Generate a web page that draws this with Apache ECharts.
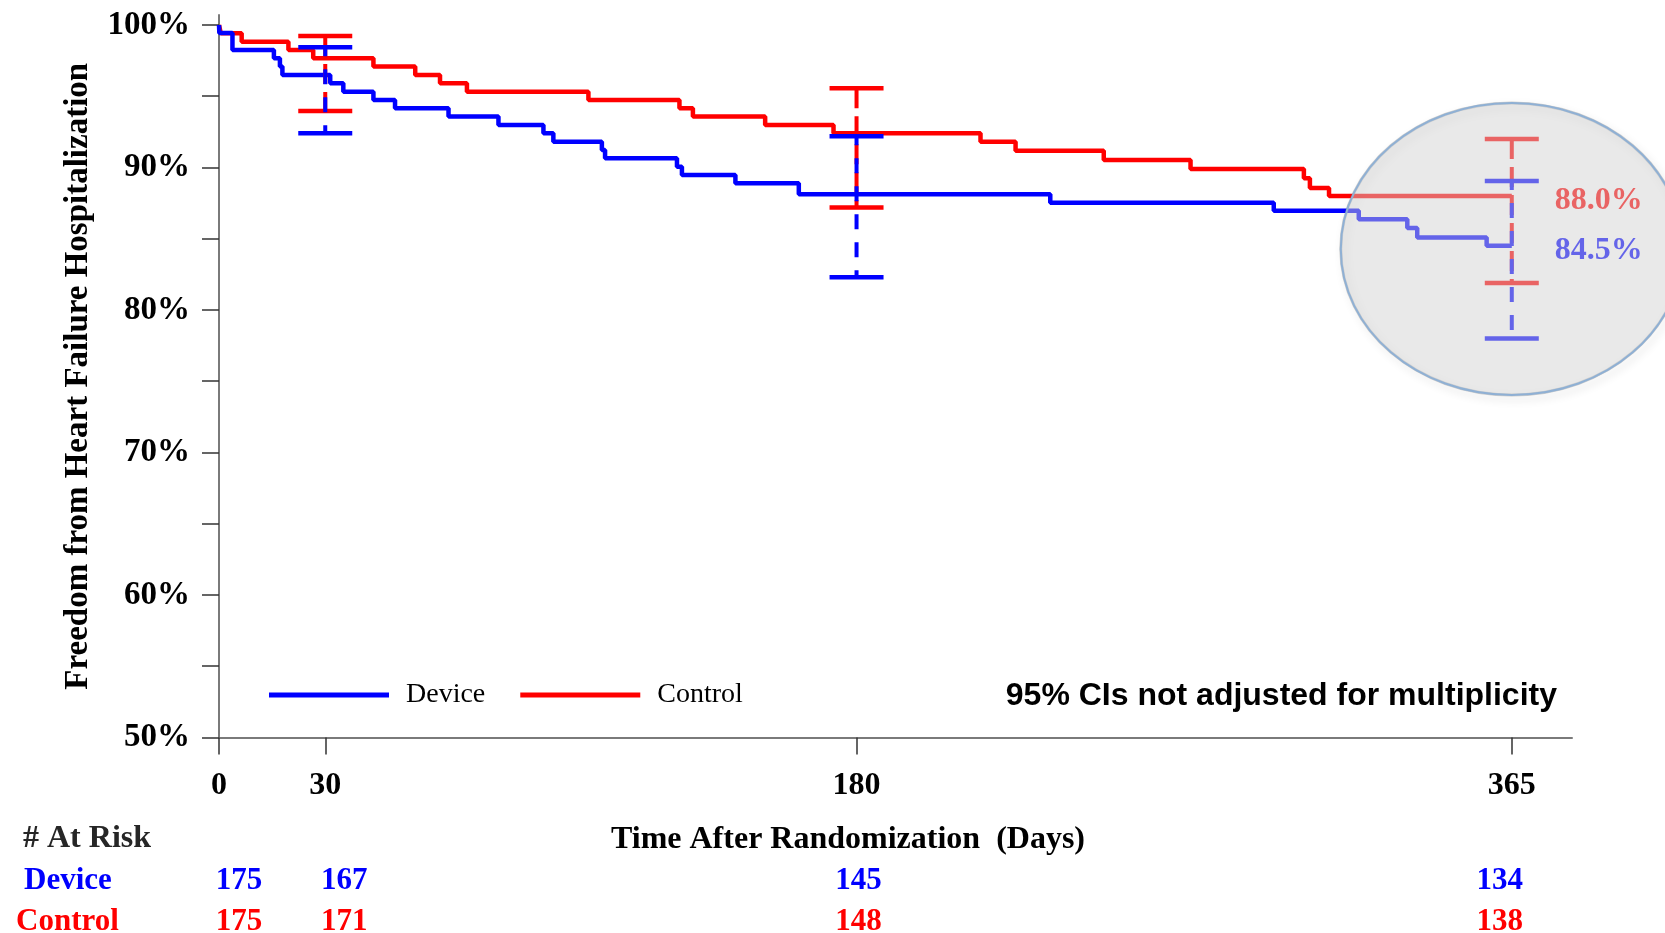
<!DOCTYPE html>
<html>
<head>
<meta charset="utf-8">
<title>Freedom from Heart Failure Hospitalization</title>
<script src="https://cdn.jsdelivr.net/npm/echarts@6/dist/echarts.min.js"></script>
<style>
  html, body { margin: 0; padding: 0; background: #ffffff; }
  #chart { width: 1665px; height: 933px; }
</style>
</head>
<body>
<div id="chart"></div>
<script>
// Kaplan-Meier estimates: day of each step and survival (%) after it
const deviceDays = [0, 0.1, 3.8, 15.5, 17.2, 17.9, 31.4, 35.1, 43.6, 49.7, 64.8, 78.9, 91.6, 94.4, 108.1, 109.0, 129.3, 130.7, 145.8, 163.7, 234.7, 297.8, 321.8, 335.5, 338.3, 357.9, 365];
const deviceSurv = [100, 99.43, 98.25, 97.66, 97.08, 96.49, 95.91, 95.32, 94.74, 94.15, 93.57, 92.98, 92.40, 91.81, 91.23, 90.64, 90.06, 89.47, 88.89, 88.12, 87.53, 86.97, 86.36, 85.76, 85.08, 84.5, 84.5];

const controlDays = [0, 0.5, 6.4, 19.6, 26.6, 43.6, 55.4, 62.4, 70.0, 104.3, 130.0, 133.8, 154.2, 173.5, 215.0, 224.9, 249.8, 274.3, 306.3, 308.0, 313.4, 365];
const controlSurv = [100, 99.42, 98.83, 98.25, 97.66, 97.08, 96.49, 95.91, 95.32, 94.74, 94.15, 93.57, 92.98, 92.40, 91.81, 91.17, 90.53, 89.89, 89.24, 88.56, 88.0, 88.0];

// 95% confidence intervals at landmark days
const ciDays = [30, 180, 365];
const deviceCiLow = [92.4, 82.3, 78.0];
const deviceCiHigh = [98.43, 92.2, 89.05];
const controlCiLow = [93.96, 87.2, 81.9];
const controlCiHigh = [99.23, 95.56, 92.0];

// Axis ticks
const xTicks = [0, 30, 180, 365];
const yTicks = [50, 55, 60, 65, 70, 75, 80, 85, 90, 95, 100];
const yLabels = [50, 60, 70, 80, 90, 100];

// Number at risk
const atRiskDays = [0, 30, 180, 365];
const deviceAtRisk = [175, 167, 145, 134];
const controlAtRisk = [175, 171, 148, 138];

const SERIF = '"Liberation Serif", "Times New Roman", serif';
const SANS = '"Liberation Sans", Arial, sans-serif';
const BLUE = '#0000ff';
const RED = '#ff0000';

const zip = (xs, ys) => xs.map((x, i) => [x, ys[i]]);
const ciData = (lo, hi) => ciDays.map((d, i) => [d, lo[i], hi[i]]);

// Dashed vertical interval with solid caps at both ends
function ciRender(color, dash, dashOffset) {
  return function (params, api) {
    const d = api.value(0);
    const top = api.coord([d, api.value(2)]);
    const bot = api.coord([d, api.value(1)]);
    const half = 27;
    const cap = { stroke: color, lineWidth: 4.5 };
    return {
      type: 'group',
      children: [
        { type: 'line', shape: { x1: top[0], y1: top[1], x2: bot[0], y2: bot[1] },
          style: { stroke: color, lineWidth: 4, lineDash: dash, lineDashOffset: dashOffset } },
        { type: 'line', shape: { x1: top[0] - half, y1: top[1], x2: top[0] + half, y2: top[1] }, style: cap },
        { type: 'line', shape: { x1: bot[0] - half, y1: bot[1], x2: bot[0] + half, y2: bot[1] }, style: cap }
      ]
    };
  };
}

const endLabel = (color) => ({
  show: true,
  distance: 43,
  offset: [0, 5],
  color: color,
  fontFamily: SERIF,
  fontWeight: 'bold',
  fontSize: 32,
  formatter: (p) => p.value[1].toFixed(1) + '%'
});

const chart = echarts.init(document.getElementById('chart'), null, { renderer: 'canvas' });

chart.setOption({
  animation: false,
  backgroundColor: '#ffffff',
  grid: { left: 219, right: 93, top: 15, bottom: 195.5, containLabel: false },
  legend: {
    data: ['Device', 'Control'],
    left: 264,
    top: 676,
    icon: 'rect',
    itemWidth: 120,
    itemHeight: 5,
    itemGap: 35,
    textStyle: { fontFamily: SERIF, fontSize: 28, color: '#000', padding: [0, 0, 0, 12] }
  },
  xAxis: {
    type: 'value',
    min: 0,
    max: 382,
    axisLine: { show: true, lineStyle: { color: '#7a7a7a', width: 2 } },
    axisTick: { show: true, length: 17, customValues: xTicks, lineStyle: { color: '#333', width: 1.5 } },
    axisLabel: {
      customValues: xTicks, margin: 32, color: '#000',
      fontFamily: SERIF, fontWeight: 'bold', fontSize: 32
    },
    splitLine: { show: false }
  },
  yAxis: {
    type: 'value',
    min: 50,
    max: 100.7,
    name: 'Freedom from Heart Failure Hospitalization',
    nameLocation: 'middle',
    nameRotate: 90,
    nameGap: 124,
    nameTextStyle: { fontFamily: SERIF, fontWeight: 'bold', fontSize: 33, color: '#000' },
    axisLine: { show: true, lineStyle: { color: '#7a7a7a', width: 2 } },
    axisTick: { show: true, length: 17, customValues: yTicks, lineStyle: { color: '#333', width: 1.5 } },
    axisLabel: {
      customValues: yLabels, margin: 29, color: '#000',
      fontFamily: SERIF, fontWeight: 'bold', fontSize: 33,
      padding: [12, 0, 0, 0],
      formatter: (v) => v + '%'
    },
    splitLine: { show: false }
  },
  series: [
    {
      name: 'Device', type: 'line', step: 'end', symbol: 'none',
      data: zip(deviceDays, deviceSurv),
      lineStyle: { color: BLUE, width: 4.5 }, itemStyle: { color: BLUE },
      endLabel: endLabel(BLUE), z: 3
    },
    {
      name: 'Control', type: 'line', step: 'end', symbol: 'none',
      data: zip(controlDays, controlSurv),
      lineStyle: { color: RED, width: 4.5 }, itemStyle: { color: RED },
      endLabel: endLabel(RED), z: 2
    },
    {
      name: 'Control 95% CI', type: 'custom',
      data: ciData(controlCiLow, controlCiHigh),
      encode: { x: 0, y: [1, 2] },
      renderItem: ciRender(RED, [20, 8], 0), z: 4
    },
    {
      name: 'Device 95% CI', type: 'custom',
      data: ciData(deviceCiLow, deviceCiHigh),
      encode: { x: 0, y: [1, 2] },
      renderItem: ciRender(BLUE, [15, 13], 6), z: 5
    }
  ]
});

// Highlight ellipse around the one-year estimates, drawn over the curves
const ellipseCenter = chart.convertToPixel({ gridIndex: 0 }, [365, 84.28]);
const toX = (d) => chart.convertToPixel({ gridIndex: 0 }, [d, 50])[0];
const riskOffset = [20, 19, 2, -12];

const riskTexts = [];
atRiskDays.forEach((d, i) => {
  const x = toX(d) + riskOffset[i];
  riskTexts.push({
    type: 'text', x: x, y: 881,
    style: { text: String(deviceAtRisk[i]), fill: BLUE, font: 'bold 31px ' + SERIF, align: 'center', verticalAlign: 'middle' }
  });
  riskTexts.push({
    type: 'text', x: x, y: 922,
    style: { text: String(controlAtRisk[i]), fill: RED, font: 'bold 31px ' + SERIF, align: 'center', verticalAlign: 'middle' }
  });
});

chart.setOption({
  graphic: [
    {
      type: 'ellipse', z: 20,
      shape: { cx: ellipseCenter[0], cy: ellipseCenter[1], rx: 171, ry: 146 },
      style: { fill: 'none', stroke: 'rgba(120,120,120,0.35)', lineWidth: 3,
               shadowColor: 'rgba(0,0,0,0.35)', shadowBlur: 8, shadowOffsetX: 3, shadowOffsetY: 4 }
    },
    {
      type: 'ellipse', z: 21,
      shape: { cx: ellipseCenter[0], cy: ellipseCenter[1], rx: 171, ry: 146 },
      style: { fill: 'rgba(208,208,208,0.48)', stroke: '#8fb0d4', lineWidth: 2 }
    },
    {
      type: 'text', x: 848, y: 840, z: 5,
      style: { text: 'Time After Randomization  (Days)', fill: '#000', font: 'bold 32px ' + SERIF, align: 'center', verticalAlign: 'middle' }
    },
    {
      type: 'text', x: 1557, y: 696, z: 5,
      style: { text: '95% CIs not adjusted for multiplicity', fill: '#000', font: 'bold 32px ' + SANS, align: 'right', verticalAlign: 'middle' }
    },
    {
      type: 'text', x: 23, y: 839, z: 5,
      style: { text: '# At Risk', fill: '#262626', font: 'bold 32px ' + SERIF, align: 'left', verticalAlign: 'middle' }
    },
    {
      type: 'text', x: 24, y: 881, z: 5,
      style: { text: 'Device', fill: BLUE, font: 'bold 31px ' + SERIF, align: 'left', verticalAlign: 'middle' }
    },
    {
      type: 'text', x: 16, y: 922, z: 5,
      style: { text: 'Control', fill: RED, font: 'bold 31px ' + SERIF, align: 'left', verticalAlign: 'middle' }
    }
  ].concat(riskTexts)
});
</script>
</body>
</html>
